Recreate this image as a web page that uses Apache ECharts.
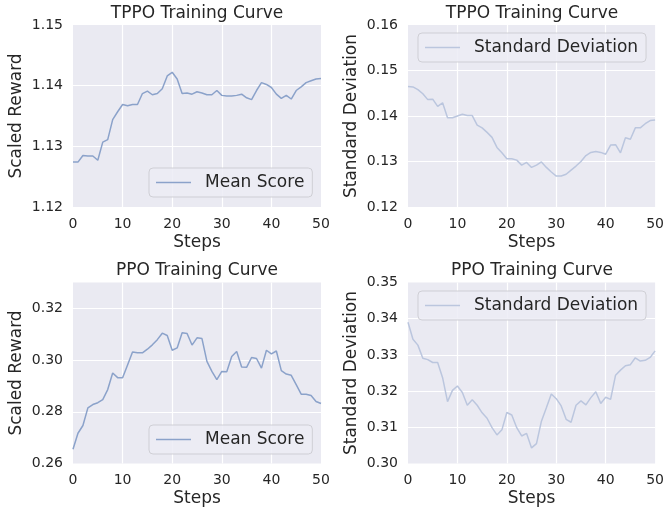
<!DOCTYPE html>
<html><head><meta charset="utf-8">
<script src="https://cdn.jsdelivr.net/npm/echarts@6/dist/echarts.min.js"></script>
<style>html,body{margin:0;padding:0;background:#fff}#c{width:667px;height:514px}</style>
</head><body><div id="c"></div>
<script>
const steps = Array.from({length: 51}, (_, i) => i);
const tppoMean = [1.1274,1.1274,1.1285,1.1284,1.1284,1.1277,1.1307,1.1311,1.1344,1.1357,
  1.1369,1.1367,1.1369,1.1369,1.1387,1.1391,1.1385,1.1387,1.1395,1.1416,
  1.1422,1.1411,1.1387,1.1388,1.1386,1.1390,1.1388,1.1385,1.1385,1.1392,
  1.1384,1.1383,1.1383,1.1384,1.1386,1.1380,1.1377,1.1392,1.1405,1.1402,
  1.1397,1.1386,1.1379,1.1384,1.1378,1.1392,1.1398,1.1405,1.1408,1.1411,1.1412];
const tppoStd = [0.1465,0.1464,0.1458,0.1449,0.1436,0.1437,0.1421,0.1429,0.1396,0.1396,
  0.1400,0.1404,0.1401,0.1401,0.1380,0.1374,0.1364,0.1353,0.1331,0.1319,
  0.1306,0.1306,0.1303,0.1292,0.1298,0.1287,0.1292,0.1299,0.1287,0.1277,
  0.1268,0.1268,0.1272,0.1281,0.1290,0.1300,0.1313,0.1320,0.1322,0.1320,
  0.1316,0.1336,0.1337,0.1319,0.1352,0.1349,0.1374,0.1374,0.1383,0.1390,0.1391];
const ppoMean = [0.2655,0.2717,0.2747,0.2815,0.2828,0.2835,0.2847,0.2886,0.2950,0.2932,
  0.2932,0.2981,0.3031,0.3028,0.3028,0.3042,0.3059,0.3079,0.3104,0.3095,
  0.3038,0.3047,0.3106,0.3103,0.3058,0.3086,0.3083,0.2995,0.2956,0.2924,
  0.2956,0.2955,0.3014,0.3033,0.2973,0.2972,0.3010,0.3006,0.2969,0.3038,
  0.3024,0.3035,0.2959,0.2946,0.2941,0.2905,0.2868,0.2868,0.2863,0.2840,0.2832];
const ppoStd = [0.3390,0.3343,0.3327,0.3291,0.3287,0.3279,0.3279,0.3237,0.3171,0.3202,
  0.3214,0.3196,0.3161,0.3176,0.3161,0.3140,0.3125,0.3099,0.3079,0.3093,
  0.3141,0.3134,0.3099,0.3076,0.3083,0.3043,0.3055,0.3117,0.3154,0.3192,
  0.3179,0.3159,0.3122,0.3114,0.3161,0.3173,0.3162,0.3182,0.3198,0.3166,
  0.3183,0.3177,0.3244,0.3258,0.3270,0.3273,0.3292,0.3283,0.3285,0.3293,0.3311];
const titles = ['TPPO Training Curve','TPPO Training Curve','PPO Training Curve','PPO Training Curve'];
const yNames = ['Scaled Reward','Standard Deviation','Scaled Reward','Standard Deviation'];
const legendNames = ['Mean Score','Standard Deviation'];
const yRanges = [[1.12,1.15,0.01],[0.12,0.16,0.01],[0.26,0.33,0.02],[0.30,0.35,0.01]];

const FONT = 'DejaVu Sans';
const TXT = '#262626';
const grids = [
  {left:73, top:25, width:248, height:182},
  {left:408, top:25, width:248, height:182},
  {left:73, top:282.5, width:248, height:181},
  {left:408, top:282.5, width:248, height:181}
];
const legendPos = [[149,168],[418,33],[149,425],[418,291]];
const titleTops = [5, 5, 262, 262];
const seriesData = [tppoMean, tppoStd, ppoMean, ppoStd];
const colors = ['#8ba2ca','#bbc6de'];

const option = {
  animation:false,
  backgroundColor:'#ffffff',
  textStyle:{fontFamily:FONT},
  title: grids.map((g,i)=>({
    text:titles[i], left:g.left+g.width/2, top:titleTops[i], textAlign:'center', padding:0,
    textStyle:{fontFamily:FONT, fontSize:17, fontWeight:'normal', color:TXT}
  })),
  grid: grids.map(g=>Object.assign({show:true, backgroundColor:'#EAEAF2', borderWidth:0, containLabel:false}, g)),
  xAxis: grids.map((g,i)=>({
    type:'value', gridIndex:i, min:0, max:50, interval:10,
    name:'Steps', nameLocation:'middle', nameGap:27,
    nameTextStyle:{fontFamily:FONT, fontSize:17, color:TXT},
    axisLine:{show:false}, axisTick:{show:false},
    axisLabel:{fontFamily:FONT, fontSize:14, color:TXT, margin:10, showMinLabel:true, showMaxLabel:true},
    splitLine:{show:true, showMinLine:false, showMaxLine:false, lineStyle:{color:'#ffffff', width:1.2}}
  })),
  yAxis: grids.map((g,i)=>({
    type:'value', gridIndex:i, min:yRanges[i][0], max:yRanges[i][1], interval:yRanges[i][2],
    name:yNames[i], nameLocation:'middle', nameGap:48, nameRotate:90,
    nameTextStyle:{fontFamily:FONT, fontSize:17, color:TXT},
    axisLine:{show:false}, axisTick:{show:false},
    axisLabel:{fontFamily:FONT, fontSize:14, color:TXT, margin:10,
      showMaxLabel: i!==2, showMinLabel:true,
      formatter: v => Number(v).toFixed(2)},
    splitLine:{show:true, showMinLine:false, showMaxLine:false, lineStyle:{color:'#ffffff', width:1.2}}
  })),
  legend: grids.map((g,i)=>({
    show:true, left:legendPos[i][0], top:legendPos[i][1], orient:'horizontal',
    data:[legendNames[i%2]], icon:'rect', itemWidth:35, itemHeight:1.5,
    padding:[6,8,6,7], backgroundColor:'rgba(236,236,244,0.85)', borderColor:'rgba(204,204,210,0.9)', borderWidth:1, borderRadius:4,
    textStyle:{fontFamily:FONT, fontSize:17, color:TXT, padding:[0,0,0,9]},
    selectedMode:false
  })),
  series: grids.map((g,i)=>({
    type:'line', name:legendNames[i%2], xAxisIndex:i, yAxisIndex:i,
    data: steps.map((s,k)=>[s, seriesData[i][k]]),
    showSymbol:false, symbol:'none',
    lineStyle:{color:colors[i%2], width:1.5},
    itemStyle:{color:colors[i%2]}
  }))
};
const chart = echarts.init(document.getElementById('c'), null, {renderer:'canvas'});
chart.setOption(option);
</script></body></html>
